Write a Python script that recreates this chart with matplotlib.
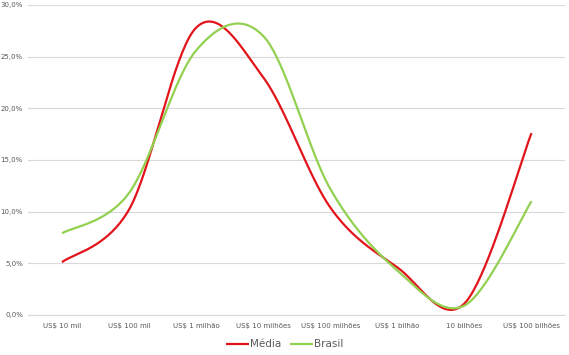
import numpy as np
import matplotlib
matplotlib.use("Agg")
import matplotlib.pyplot as plt
from matplotlib.ticker import FuncFormatter

categories = ["US$ 10 mil", "US$ 100 mil", "US$ 1 milhão", "US$ 10 milhões",
              "US$ 100 milhões", "US$ 1 bilhão", "10 bilhões", "US$ 100 bilhões"]
media = [5.1, 10.2, 27.8, 23.0, 10.4, 4.6, 1.1, 17.6]
brasil = [7.9, 11.8, 25.6, 27.0, 12.2, 4.3, 0.9, 11.0]


def smooth(x, y, n=40):
    # Excel-like smoothed line: Catmull-Rom segments as cubic Bezier
    x = np.asarray(x, float)
    y = np.asarray(y, float)
    px = np.concatenate([[x[0]], x, [x[-1]]])
    py = np.concatenate([[y[0]], y, [y[-1]]])
    xs, ys = [], []
    t = np.linspace(0, 1, n)
    for i in range(1, len(px) - 2):
        p0 = np.array([px[i], py[i]])
        p3 = np.array([px[i + 1], py[i + 1]])
        p1 = p0 + (np.array([px[i + 1], py[i + 1]]) - np.array([px[i - 1], py[i - 1]])) / 6
        p2 = p3 - (np.array([px[i + 2], py[i + 2]]) - np.array([px[i], py[i]])) / 6
        b = ((1 - t) ** 3)[:, None] * p0 + (3 * (1 - t) ** 2 * t)[:, None] * p1 \
            + (3 * (1 - t) * t ** 2)[:, None] * p2 + (t ** 3)[:, None] * p3
        xs.extend(b[:, 0])
        ys.extend(b[:, 1])
    return np.array(xs), np.array(ys)


fig = plt.figure(figsize=(5.69, 3.55), dpi=100)
ax = fig.add_axes([0.05, 0.113, 0.943, 0.873])

pos = np.arange(len(categories))
mx, my = smooth(pos, media)
bx, by = smooth(pos, brasil)
ax.plot(mx, my, color="#E2141B", lw=1.6, label="Média", solid_capstyle="butt")
ax.plot(bx, by, color="#92D050", lw=1.6, label="Brasil", solid_capstyle="butt")

ax.set_xlim(-0.5, len(categories) - 0.5)
ax.set_ylim(0, 30)
ax.set_yticks(np.arange(0, 31, 5))
ax.yaxis.set_major_formatter(FuncFormatter(lambda v, p: f"{v:.1f}%".replace(".", ",")))
ax.set_xticks(pos)
ax.set_xticklabels(categories)
ax.tick_params(axis="both", length=0, labelsize=5, colors="#595959")
ax.tick_params(axis="x", pad=6)
ax.tick_params(axis="y", pad=4)
ax.grid(axis="y", color="#D9D9D9", lw=0.8)
ax.set_axisbelow(True)
for s in ["top", "right", "left"]:
    ax.spines[s].set_visible(False)
ax.spines["bottom"].set_color("#D9D9D9")

fig.legend(loc="lower center", ncol=2, frameon=False, fontsize=7.5,
           bbox_to_anchor=(0.5, -0.01), handlelength=2.2, handletextpad=0.1,
           columnspacing=0.8, labelcolor="#595959")

plt.savefig("out.png")
